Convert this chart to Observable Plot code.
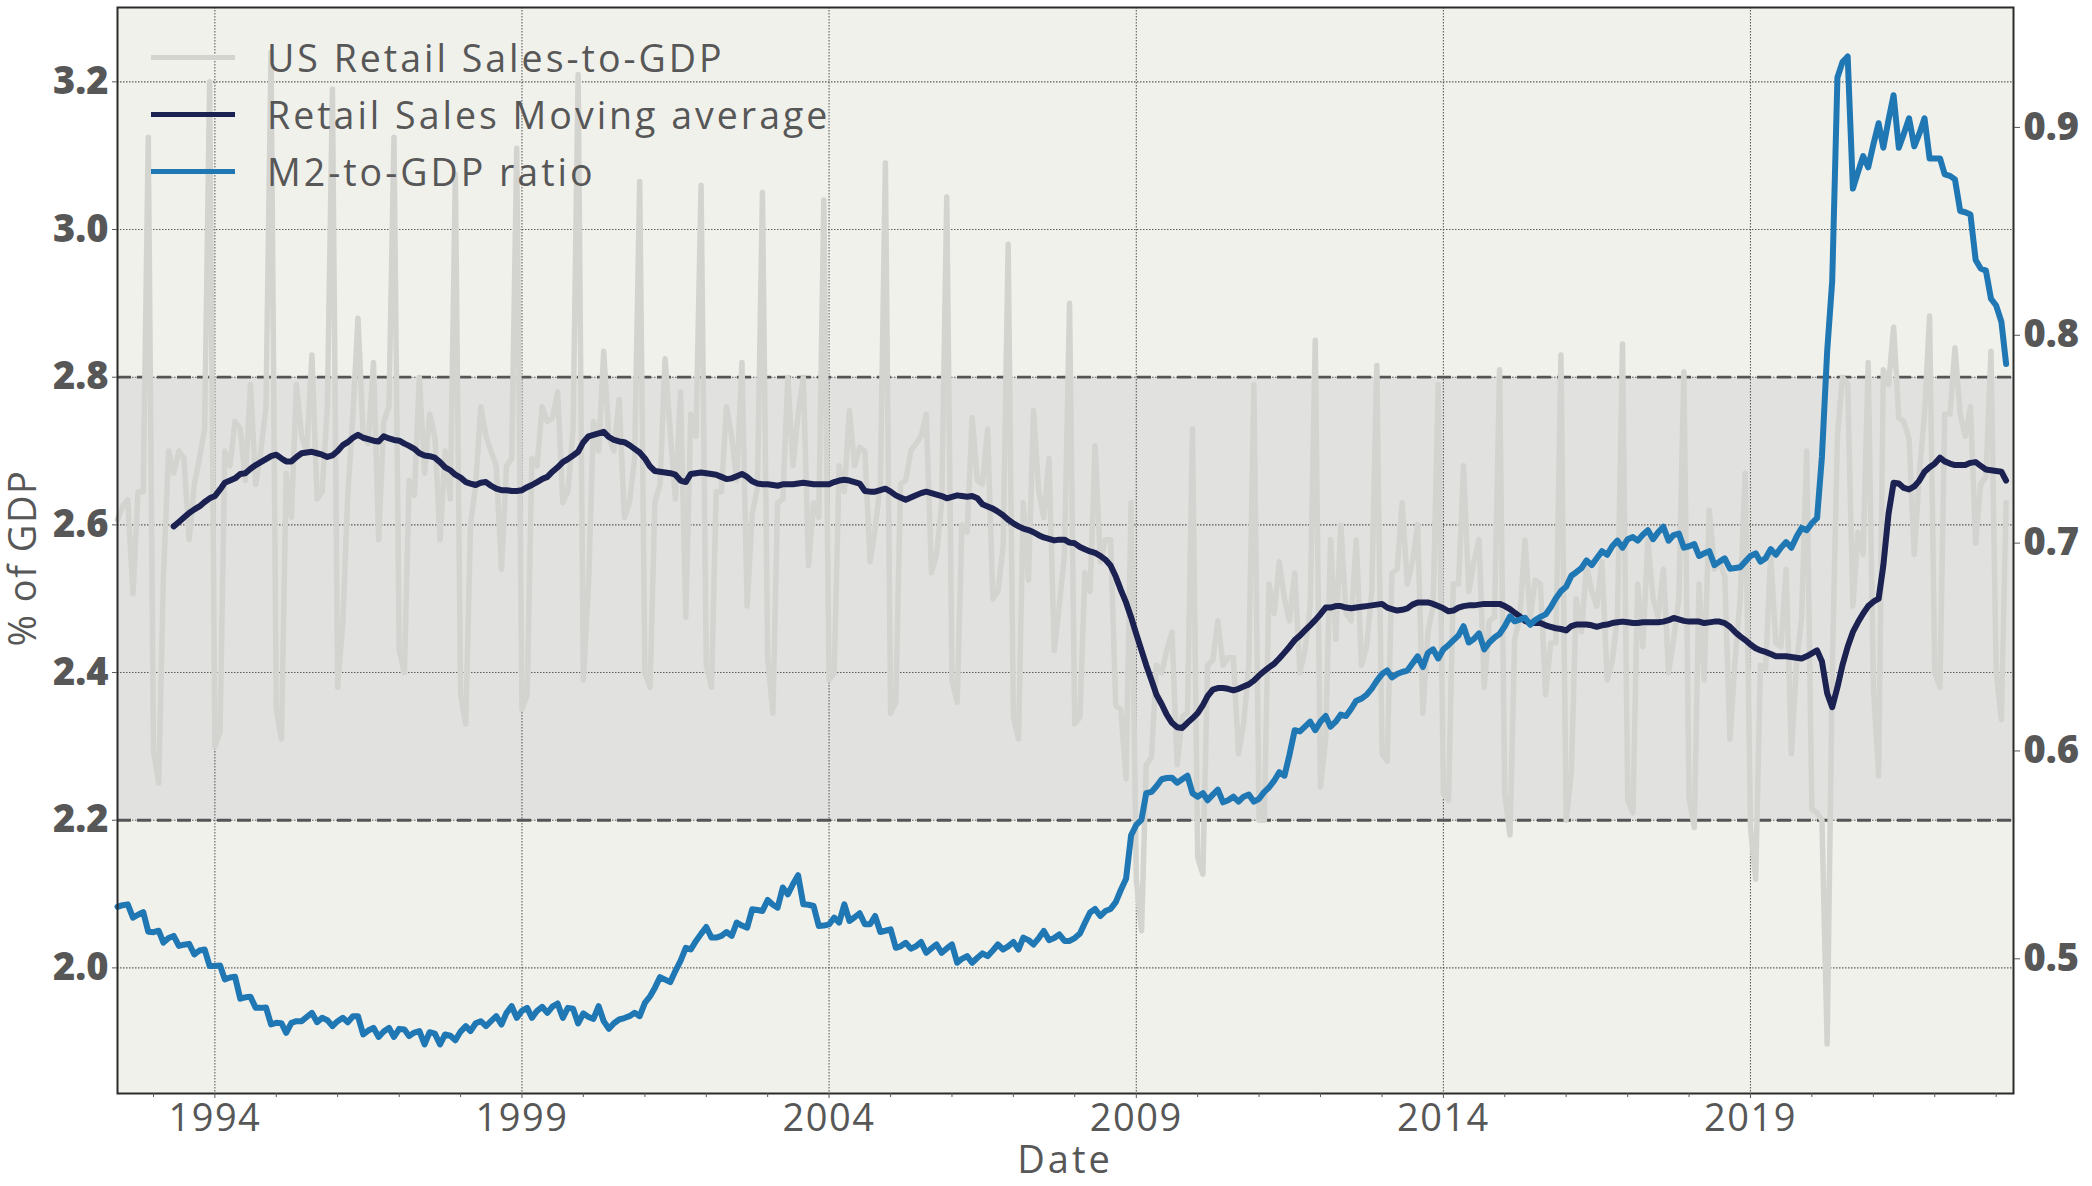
<!DOCTYPE html>
<html>
<head>
<meta charset="utf-8">
<script src="https://cdn.jsdelivr.net/npm/d3@7"></script>
<script src="https://cdn.jsdelivr.net/npm/@observablehq/plot@0.6"></script>
<style>
  html, body { margin: 0; padding: 0; background: #ffffff; }
  #wrap { position: relative; width: 2092px; height: 1186px; font-family: "Open Sans", sans-serif; }
  #legend { position: absolute; left: 151px; top: 29px; }
  .lg-row { display: flex; align-items: center; height: 57px; }
  .lg-line { width: 84px; height: 5px; margin-right: 32px; }
  .lg-text { font-size: 37.5px; color: #575757; line-height: 1; white-space: nowrap; letter-spacing: 3px; }
  .axis-title { position: absolute; font-size: 38px; color: #575757; line-height: 1; white-space: nowrap; }
  #ytitle { left: 21px; top: 558px; writing-mode: vertical-rl; transform: translate(-50%, -50%) rotate(180deg); letter-spacing: 1.5px; }
  #xtitle { left: 1065px; top: 1158px; transform: translate(-50%, -50%); letter-spacing: 3px; }
  #wrap svg g[aria-label="x-axis tick label"] text { letter-spacing: 1.5px; }
</style>
</head>
<body>
<div id="wrap">
  <div id="legend"></div>
  <div id="ytitle" class="axis-title"></div>
  <div id="xtitle" class="axis-title"></div>
</div>
<script>
// ---------------- DATA ----------------
// Monthly series, first value = June 1992
const seriesStart = { year: 1992, month: 5 };

// US Retail Sales-to-GDP (% of GDP), Jun 1992 ... Mar 2023
const retailSales = [
  2.607, 2.625, 2.634, 2.507, 2.645, 2.645, 3.125,
  2.294, 2.250, 2.530, 2.700, 2.670, 2.700, 2.690, 2.580, 2.655, 2.690, 2.730, 3.200,
  2.300, 2.320, 2.700, 2.680, 2.740, 2.730, 2.660, 2.790, 2.655, 2.700, 2.760, 3.240,
  2.350, 2.310, 2.670, 2.610, 2.790, 2.720, 2.700, 2.830, 2.635, 2.645, 2.760, 3.190,
  2.380, 2.470, 2.640, 2.750, 2.880, 2.720, 2.710, 2.820, 2.580, 2.740, 2.760, 3.125,
  2.430, 2.400, 2.660, 2.640, 2.800, 2.670, 2.750, 2.720, 2.580, 2.700, 2.635, 3.075,
  2.370, 2.330, 2.600, 2.655, 2.760, 2.720, 2.700, 2.680, 2.540, 2.680, 2.690, 3.110,
  2.350, 2.370, 2.690, 2.680, 2.760, 2.740, 2.745, 2.780, 2.630, 2.645, 2.730, 3.210,
  2.390, 2.520, 2.740, 2.700, 2.835, 2.720, 2.700, 2.770, 2.610, 2.630, 2.690, 3.065,
  2.400, 2.380, 2.630, 2.655, 2.825, 2.725, 2.635, 2.780, 2.475, 2.750, 2.720, 3.060,
  2.410, 2.380, 2.645, 2.645, 2.760, 2.720, 2.660, 2.820, 2.490, 2.615, 2.650, 3.050,
  2.420, 2.345, 2.630, 2.635, 2.800, 2.680, 2.750, 2.800, 2.545, 2.630, 2.610, 3.040,
  2.390, 2.400, 2.680, 2.645, 2.755, 2.680, 2.705, 2.700, 2.550, 2.595, 2.655, 3.090,
  2.345, 2.360, 2.655, 2.660, 2.700, 2.710, 2.720, 2.750, 2.535, 2.560, 2.630, 3.044,
  2.390, 2.360, 2.600, 2.590, 2.745, 2.660, 2.655, 2.730, 2.500, 2.510, 2.570, 2.980,
  2.340, 2.310, 2.630, 2.525, 2.755, 2.645, 2.610, 2.690, 2.430, 2.490, 2.560, 2.900,
  2.330, 2.340, 2.535, 2.510, 2.707, 2.550, 2.580, 2.580, 2.355, 2.350, 2.256, 2.630,
  2.120, 2.050, 2.275, 2.285, 2.410, 2.400, 2.430, 2.455, 2.275, 2.340, 2.345, 2.730,
  2.150, 2.127, 2.410, 2.417, 2.470, 2.410, 2.420, 2.420, 2.290, 2.330, 2.410, 2.790,
  2.200, 2.200, 2.520, 2.480, 2.550, 2.500, 2.470, 2.535, 2.400, 2.430, 2.490, 2.850,
  2.245, 2.310, 2.580, 2.445, 2.600, 2.480, 2.470, 2.580, 2.410, 2.435, 2.510, 2.816,
  2.290, 2.280, 2.535, 2.540, 2.630, 2.520, 2.550, 2.600, 2.345, 2.455, 2.490, 2.790,
  2.236, 2.227, 2.520, 2.520, 2.680, 2.510, 2.550, 2.580, 2.380, 2.470, 2.475, 2.810,
  2.236, 2.180, 2.445, 2.475, 2.580, 2.475, 2.525, 2.520, 2.370, 2.440, 2.440, 2.830,
  2.200, 2.265, 2.500, 2.455, 2.545, 2.510, 2.490, 2.550, 2.390, 2.415, 2.475, 2.845,
  2.227, 2.210, 2.520, 2.435, 2.580, 2.500, 2.475, 2.540, 2.400, 2.445, 2.500, 2.807,
  2.230, 2.190, 2.520, 2.390, 2.620, 2.540, 2.550, 2.530, 2.310, 2.415, 2.500, 2.670,
  2.190, 2.120, 2.410, 2.405, 2.560, 2.440, 2.435, 2.540, 2.290, 2.410, 2.475, 2.700,
  2.215, 2.210, 2.200, 1.897, 2.400, 2.720, 2.800, 2.790, 2.490, 2.590, 2.560, 2.820,
  2.380, 2.260, 2.810, 2.790, 2.868, 2.745, 2.740, 2.716, 2.560, 2.670, 2.750, 2.883,
  2.400, 2.380, 2.750, 2.750, 2.840, 2.750, 2.720, 2.760, 2.575, 2.655, 2.665, 2.835,
  2.400, 2.336, 2.630
];

// Retail Sales 12-month moving average, first value = May 1993
const movingAverageStartIndex = 11;
const movingAverage = [
  2.598, 2.604, 2.610, 2.616, 2.621, 2.625, 2.631, 2.636, 2.639, 2.648, 2.657, 2.660,
  2.663, 2.669, 2.670, 2.676, 2.681, 2.685, 2.689, 2.693, 2.695, 2.690, 2.686, 2.686,
  2.692, 2.697, 2.698, 2.699, 2.697, 2.695, 2.692, 2.694, 2.700, 2.708, 2.712, 2.718,
  2.722, 2.718, 2.716, 2.714, 2.713, 2.720, 2.717, 2.715, 2.714, 2.710, 2.707, 2.703,
  2.697, 2.694, 2.693, 2.691, 2.685, 2.678, 2.674, 2.668, 2.664, 2.658, 2.656, 2.654,
  2.657, 2.658, 2.653, 2.649, 2.647, 2.647, 2.646, 2.646, 2.647, 2.651, 2.654, 2.658,
  2.662, 2.665, 2.672, 2.678, 2.685, 2.689, 2.694, 2.699, 2.712, 2.720, 2.722, 2.724,
  2.726, 2.719, 2.715, 2.713, 2.712, 2.708, 2.703, 2.698, 2.690, 2.679, 2.673, 2.672,
  2.671, 2.670, 2.668, 2.660, 2.658, 2.669, 2.670, 2.671, 2.670, 2.669, 2.668, 2.665,
  2.662, 2.663, 2.666, 2.669, 2.665, 2.659, 2.656, 2.655, 2.655, 2.654, 2.653, 2.655,
  2.655, 2.655, 2.656, 2.657, 2.656, 2.655, 2.655, 2.655, 2.655, 2.658, 2.660, 2.661,
  2.660, 2.658, 2.656, 2.646, 2.645, 2.645, 2.647, 2.649, 2.645, 2.640, 2.637, 2.634,
  2.637, 2.640, 2.643, 2.645, 2.643, 2.641, 2.639, 2.636, 2.638, 2.640, 2.639, 2.638,
  2.639, 2.636, 2.628, 2.625, 2.622, 2.618, 2.613, 2.607, 2.602, 2.598, 2.595, 2.593,
  2.590, 2.586, 2.583, 2.581, 2.579, 2.580, 2.580, 2.576, 2.575, 2.570, 2.567, 2.564,
  2.562, 2.558, 2.553, 2.545, 2.530, 2.512, 2.495, 2.475, 2.452, 2.430, 2.410, 2.390,
  2.370, 2.357, 2.343, 2.332, 2.326, 2.325, 2.332, 2.338, 2.345, 2.356, 2.368, 2.377,
  2.379, 2.379, 2.378, 2.376, 2.378, 2.381, 2.384, 2.389, 2.396, 2.402, 2.407, 2.412,
  2.419, 2.427, 2.435, 2.444, 2.450, 2.457, 2.464, 2.471, 2.479, 2.488, 2.488, 2.490,
  2.490, 2.488, 2.487, 2.488, 2.489, 2.490, 2.491, 2.492, 2.493, 2.488, 2.486, 2.484,
  2.485, 2.487, 2.492, 2.495, 2.495, 2.495, 2.493, 2.490, 2.487, 2.483, 2.484, 2.488,
  2.490, 2.491, 2.491, 2.492, 2.493, 2.493, 2.493, 2.493, 2.490, 2.486, 2.481, 2.476,
  2.470, 2.467, 2.467, 2.467, 2.464, 2.462, 2.460, 2.459, 2.457, 2.463, 2.465, 2.465,
  2.465, 2.464, 2.462, 2.464, 2.465, 2.467, 2.468, 2.469, 2.468, 2.467, 2.467, 2.468,
  2.468, 2.468, 2.468, 2.469, 2.471, 2.474, 2.472, 2.470, 2.469, 2.469, 2.469, 2.467,
  2.468, 2.469, 2.469, 2.467, 2.462, 2.455, 2.449, 2.444, 2.438, 2.433, 2.430, 2.428,
  2.425, 2.422, 2.422, 2.422, 2.421, 2.420, 2.419, 2.422, 2.426, 2.430, 2.415, 2.372,
  2.353, 2.380, 2.410, 2.435, 2.455, 2.468, 2.480, 2.490, 2.496, 2.500, 2.545, 2.615,
  2.657, 2.656, 2.650, 2.648, 2.652, 2.660, 2.672, 2.678, 2.683, 2.691, 2.686, 2.683,
  2.681, 2.681, 2.681, 2.684, 2.685, 2.680, 2.675, 2.674, 2.673, 2.672, 2.660
];

// M2-to-GDP ratio (right axis), Jun 1992 ... Mar 2023
const m2Ratio = [
  0.5250, 0.5258, 0.5262, 0.5198, 0.5212, 0.5225, 0.5130, 0.5128, 0.5135, 0.5078, 0.5100, 0.5110,
  0.5062, 0.5068, 0.5072, 0.5021, 0.5040, 0.5045, 0.4965, 0.4965, 0.4968, 0.4901, 0.4910, 0.4914,
  0.4808, 0.4815, 0.4817, 0.4764, 0.4764, 0.4766, 0.4684, 0.4692, 0.4690, 0.4644, 0.4692, 0.4700,
  0.4700, 0.4720, 0.4740, 0.4695, 0.4716, 0.4705, 0.4676, 0.4700, 0.4716, 0.4695, 0.4724, 0.4724,
  0.4636, 0.4655, 0.4668, 0.4624, 0.4650, 0.4668, 0.4624, 0.4663, 0.4660, 0.4628, 0.4645, 0.4652,
  0.4588, 0.4647, 0.4640, 0.4588, 0.4636, 0.4630, 0.4608, 0.4650, 0.4676, 0.4652, 0.4690, 0.4700,
  0.4676, 0.4700, 0.4724, 0.4684, 0.4740, 0.4772, 0.4716, 0.4750, 0.4764, 0.4716, 0.4750, 0.4769,
  0.4740, 0.4770, 0.4785, 0.4716, 0.4764, 0.4760, 0.4689, 0.4737, 0.4720, 0.4711, 0.4772, 0.4700,
  0.4663, 0.4690, 0.4708, 0.4715, 0.4724, 0.4740, 0.4724, 0.4788, 0.4820, 0.4860, 0.4912, 0.4900,
  0.4888, 0.4941, 0.4990, 0.5053, 0.5045, 0.5086, 0.5120, 0.5153, 0.5102, 0.5102, 0.5110, 0.5129,
  0.5110, 0.5174, 0.5160, 0.5150, 0.5238, 0.5235, 0.5230, 0.5283, 0.5260, 0.5246, 0.5343, 0.5310,
  0.5360, 0.5402, 0.5262, 0.5260, 0.5254, 0.5158, 0.5160, 0.5166, 0.5198, 0.5174, 0.5262, 0.5182,
  0.5200, 0.5219, 0.5166, 0.5166, 0.5206, 0.5129, 0.5135, 0.5142, 0.5053, 0.5060, 0.5077, 0.5049,
  0.5060, 0.5081, 0.5029, 0.5050, 0.5069, 0.5029, 0.5050, 0.5069, 0.4981, 0.5000, 0.5013, 0.4981,
  0.5005, 0.5026, 0.5013, 0.5040, 0.5069, 0.5045, 0.5060, 0.5081, 0.5045, 0.5102, 0.5090, 0.5069,
  0.5100, 0.5134, 0.5090, 0.5100, 0.5118, 0.5086, 0.5086, 0.5100, 0.5122, 0.5172, 0.5223, 0.5240,
  0.5206, 0.5230, 0.5240, 0.5273, 0.5331, 0.5385, 0.5594, 0.5645, 0.5670, 0.5797, 0.5803, 0.5830,
  0.5864, 0.5870, 0.5871, 0.5847, 0.5864, 0.5881, 0.5797, 0.5780, 0.5797, 0.5763, 0.5790, 0.5814,
  0.5753, 0.5763, 0.5780, 0.5756, 0.5780, 0.5790, 0.5756, 0.5770, 0.5803, 0.5824, 0.5857, 0.5898,
  0.5881, 0.5982, 0.6100, 0.6094, 0.6117, 0.6141, 0.6100, 0.6141, 0.6168, 0.6117, 0.6141, 0.6175,
  0.6168, 0.6202, 0.6242, 0.6252, 0.6270, 0.6300, 0.6337, 0.6370, 0.6387, 0.6354, 0.6370, 0.6380,
  0.6387, 0.6421, 0.6455, 0.6404, 0.6472, 0.6489, 0.6445, 0.6489, 0.6510, 0.6532, 0.6556, 0.6600,
  0.6522, 0.6539, 0.6566, 0.6489, 0.6522, 0.6546, 0.6563, 0.6600, 0.6647, 0.6624, 0.6632, 0.6641,
  0.6607, 0.6630, 0.6645, 0.6657, 0.6691, 0.6735, 0.6769, 0.6790, 0.6843, 0.6860, 0.6880, 0.6917,
  0.6894, 0.6927, 0.6961, 0.6944, 0.6985, 0.7012, 0.6978, 0.7019, 0.7029, 0.7012, 0.7040, 0.7062,
  0.7019, 0.7052, 0.7079, 0.7012, 0.7039, 0.7046, 0.6978, 0.6985, 0.6995, 0.6938, 0.6951, 0.6961,
  0.6894, 0.6911, 0.6927, 0.6877, 0.6880, 0.6884, 0.6911, 0.6938, 0.6951, 0.6911, 0.6927, 0.6971,
  0.6944, 0.6978, 0.7005, 0.6978, 0.7029, 0.7073, 0.7062, 0.7096, 0.7120, 0.7417, 0.7923, 0.8261,
  0.9240, 0.9314, 0.9341, 0.8706, 0.8784, 0.8862, 0.8808, 0.8919, 0.9020, 0.8902, 0.9037, 0.9155,
  0.8902, 0.8970, 0.9044, 0.8909, 0.8970, 0.9044, 0.8851, 0.8851, 0.8851, 0.8774, 0.8767, 0.8750,
  0.8598, 0.8592, 0.8581, 0.8362, 0.8321, 0.8311, 0.8176, 0.8143, 0.8065, 0.7862
];

// Axes
const leftTicks = [2.0, 2.2, 2.4, 2.6, 2.8, 3.0, 3.2];
const rightTicks = [0.5, 0.6, 0.7, 0.8, 0.9];
const labeledYears = [1994, 1999, 2004, 2009, 2014, 2019];
const minorYears = d3.range(1993, 2024);
const leftDomain = [1.8299, 3.3007];
const rightDomain = [0.4352, 0.9577];
const xStart = [1992, 5, 1];
const xEnd = [2023, 3, 14];
const band = [2.2, 2.8];

const yTitle = "% of GDP";
const xTitle = "Date";
const seriesNames = ["US Retail Sales-to-GDP", "Retail Sales Moving average", "M2-to-GDP ratio"];
const seriesColors = ["#d3d3cf", "#1b2150", "#1f77b4"];

// ---------------- BUILD ----------------
const monthDate = (i) => new Date(Date.UTC(seriesStart.year, seriesStart.month + i, 1));
const retailData = retailSales.map((v, i) => ({ date: monthDate(i), value: v }));
const maData = movingAverage.map((v, i) => ({ date: monthDate(movingAverageStartIndex + i), value: v }));
const m2Data = m2Ratio.map((v, i) => ({ date: monthDate(i), value: v }));

const k = (leftDomain[1] - leftDomain[0]) / (rightDomain[1] - rightDomain[0]);
const toLeft = (v) => leftDomain[0] + (v - rightDomain[0]) * k;
const fromLeft = (y) => rightDomain[0] + (y - leftDomain[0]) / k;

const yearDate = (y) => new Date(Date.UTC(y, 0, 1));
const majorDates = labeledYears.map(yearDate);
const minorDates = minorYears.filter((y) => !labeledYears.includes(y)).map(yearDate);
const xDomain = [new Date(Date.UTC(...xStart)), new Date(Date.UTC(...xEnd))];

const textColor = "#575757";
const fontFamily = "'Open Sans', sans-serif";
const gridStyle = { stroke: "#444", strokeWidth: 1.1, strokeDasharray: "1.5,1.5", strokeOpacity: 0.85 };

const chart = Plot.plot({
  width: 2092,
  height: 1186,
  marginLeft: 117,
  marginRight: 79,
  marginTop: 7,
  marginBottom: 93,
  style: { fontFamily, background: "#ffffff", overflow: "visible" },
  x: { type: "utc", domain: xDomain },
  y: { domain: leftDomain },
  marks: [
    Plot.frame({ fill: "#f1f1ec" }),
    Plot.rect([band], { x1: () => xDomain[0], x2: () => xDomain[1], y1: (d) => d[0], y2: (d) => d[1], fill: "#e1e1e0" }),
    Plot.ruleX(majorDates, gridStyle),
    Plot.ruleY(leftTicks, gridStyle),
    Plot.ruleY(band, { stroke: "#555", strokeWidth: 2.8, strokeDasharray: "14,6" }),
    Plot.line(retailData, { x: "date", y: "value", stroke: seriesColors[0], strokeWidth: 5.5 }),
    Plot.line(maData, { x: "date", y: "value", stroke: seriesColors[1], strokeWidth: 6 }),
    Plot.line(m2Data, { x: "date", y: (d) => toLeft(d.value), stroke: seriesColors[2], strokeWidth: 6 }),
    Plot.frame({ stroke: "#2b2b2b", strokeWidth: 2 }),
    Plot.axisY(leftTicks, {
      anchor: "left", tickFormat: d3.format(".1f"), tickSize: 5, tickPadding: 4,
      fontSize: 38, fontWeight: 800, color: textColor, label: null
    }),
    Plot.axisY(rightTicks.map(toLeft), {
      anchor: "right", tickFormat: (d) => d3.format(".1f")(fromLeft(d)), tickSize: 6, tickPadding: 4,
      fontSize: 38, fontWeight: 800, color: textColor, label: null
    }),
    Plot.axisX(majorDates, {
      anchor: "bottom", tickFormat: d3.utcFormat("%Y"), tickSize: 5, tickPadding: 6,
      fontSize: 38, color: textColor, label: null
    }),
    Plot.axisX(minorDates, {
      anchor: "bottom", tickFormat: () => "", tickSize: 4, color: textColor, label: null
    })
  ]
});

const wrap = document.getElementById("wrap");
wrap.insertBefore(chart, wrap.firstChild);

// Axis titles
document.getElementById("ytitle").textContent = yTitle;
document.getElementById("xtitle").textContent = xTitle;

// Legend overlay (top-left inside the plot)
const legend = d3.select("#legend");
seriesNames.forEach((name, i) => {
  const row = legend.append("div").attr("class", "lg-row");
  row.append("div").attr("class", "lg-line").style("background", seriesColors[i]);
  row.append("div").attr("class", "lg-text").text(name);
});
</script>
</body>
</html>
